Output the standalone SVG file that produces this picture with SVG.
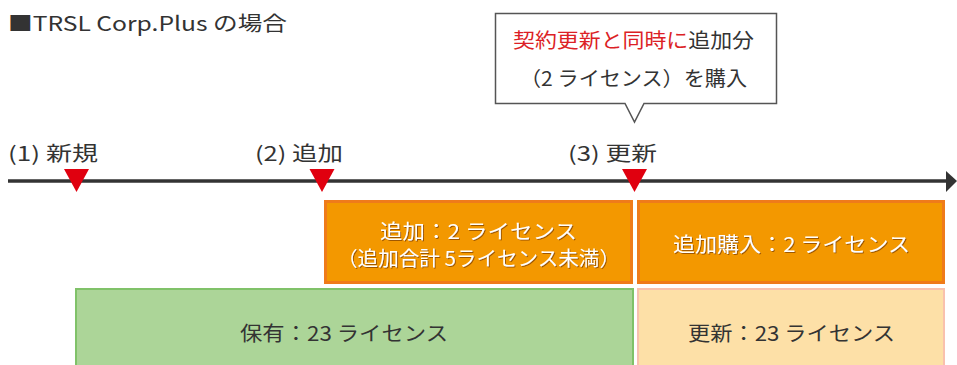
<svg xmlns="http://www.w3.org/2000/svg" width="957" height="365" viewBox="0 0 957 365">
<defs>
<style>
text{font-family:"Noto Sans CJK JP","Noto Sans",sans-serif;fill:#333;}
.lbl{font-size:20px;}
.box{font-size:20px;}
.w{fill:#fff;filter:url(#sh);}
.red{fill:#dc1f26;}
.tri{fill:#e0000f;}
</style>
<filter id="sh" x="-5%" y="-20%" width="110%" height="140%">
<feDropShadow dx="1" dy="1" stdDeviation="0.6" flood-color="#7a3a00" flood-opacity="0.7"/>
</filter>
</defs>
<rect width="957" height="365" fill="#fff"/>
<text x="8" y="31" font-size="20" textLength="279" lengthAdjust="spacingAndGlyphs">■TRSL Corp.Plus の場合</text>

<g id="callout">
<path d="M495.5,13.5 H776.5 V103.5 H644 L634.5,122 L625,103.5 H495.5 Z" fill="#fff" stroke="#555" stroke-width="1.5"/>
<text x="513" y="48" font-size="20" textLength="241" lengthAdjust="spacingAndGlyphs"><tspan class="red">契約更新と同時に</tspan>追加分</text>
<text x="520" y="86" font-size="20" textLength="227" lengthAdjust="spacingAndGlyphs">（2 ライセンス）を購入</text>
</g>

<g id="connectors">
<line x1="8" y1="181" x2="948" y2="181" stroke="#333" stroke-width="3.5"/>
<polygon points="946,171 957,181 946,192" fill="#333"/>
</g>

<g id="m1">
<text class="lbl" x="8" y="161" textLength="90" lengthAdjust="spacingAndGlyphs">(1) 新規</text>
<polygon class="tri" points="64,169 89,169 76.5,192"/>
</g>
<g id="m2">
<text class="lbl" x="255" y="161" textLength="88" lengthAdjust="spacingAndGlyphs">(2) 追加</text>
<polygon class="tri" points="309.5,169 334.5,169 322,192"/>
</g>
<g id="m3">
<text class="lbl" x="568" y="161" textLength="89" lengthAdjust="spacingAndGlyphs">(3) 更新</text>
<polygon class="tri" points="622,169 647,169 634.5,192"/>
</g>

<g id="add1">
<rect x="325.5" y="201.5" width="306" height="81" fill="#f39800" stroke="#ef7b1a" stroke-width="3"/>
<text class="box w" x="380" y="239" textLength="197" lengthAdjust="spacingAndGlyphs">追加：2 ライセンス</text>
<text class="box w" x="337" y="266" textLength="283" lengthAdjust="spacingAndGlyphs">（追加合計 5ライセンス未満）</text>
</g>
<g id="add2">
<rect x="638.5" y="201.5" width="305" height="81" fill="#f39800" stroke="#ef7b1a" stroke-width="3"/>
<text class="box w" x="673" y="252" textLength="237" lengthAdjust="spacingAndGlyphs">追加購入：2 ライセンス</text>
</g>
<g id="hold">
<rect x="76" y="289" width="557" height="80" fill="#acd598" stroke="#80c269" stroke-width="2"/>
<text class="box" x="240" y="341" textLength="208" lengthAdjust="spacingAndGlyphs">保有：23 ライセンス</text>
</g>
<g id="renew">
<rect x="638" y="289" width="306" height="80" fill="#fde0a7" stroke="#f9c1ad" stroke-width="2"/>
<text class="box" x="688" y="341" textLength="207" lengthAdjust="spacingAndGlyphs">更新：23 ライセンス</text>
</g>
</svg>
